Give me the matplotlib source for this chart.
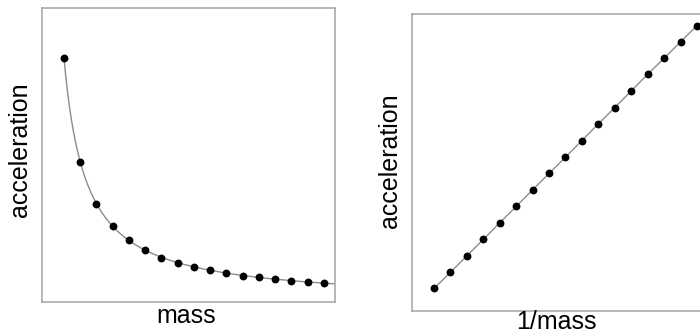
import numpy as np
import matplotlib
matplotlib.use("Agg")
import matplotlib.pyplot as plt

plt.rcParams['font.family'] = ['Liberation Sans', 'DejaVu Sans']

# left panel: acceleration against mass
mass = np.arange(1, 18)
accel_mass = [8.30, 4.76, 3.33, 2.59, 2.11, 1.77, 1.50, 1.33, 1.19,
              1.09, 0.99, 0.88, 0.85, 0.78, 0.71, 0.68, 0.65]

# right panel: acceleration against 1/mass
inv_mass = np.arange(1, 18)
accel_inv = [0.76, 1.30, 1.86, 2.41, 2.97, 3.52, 4.08, 4.63, 5.18,
             5.74, 6.30, 6.85, 7.41, 7.97, 8.51, 9.06, 9.61]

frame_col = '#a3a3a3'
line_col = '#8c8c8c'

# smooth curve a = A/(m+c) + B fitted to the points
best = None
for c in np.linspace(-0.9, 3, 400):
    X = np.column_stack([1.0 / (mass + c), np.ones(len(mass))])
    coef, res, _, _ = np.linalg.lstsq(X, accel_mass, rcond=None)
    err = np.sum((X @ coef - accel_mass) ** 2)
    if best is None or err < best[0]:
        best = (err, c, coef)
_, c, (A, B) = best

fig = plt.figure(figsize=(7, 3.34), dpi=100)

ax1 = fig.add_axes([42 / 700, 32 / 334, 293 / 700, 294 / 334])
mm = np.linspace(1, 17.7, 400)
ax1.plot(mm, A / (mm + c) + B, color=line_col, lw=1.0, zorder=1)
ax1.scatter(mass, accel_mass, s=32, color='black', zorder=2, linewidths=0)
ax1.set_xlim(-0.354, 17.68)
ax1.set_ylim(0, 10)

ax2 = fig.add_axes([412 / 700, 23 / 334, 293 / 700, 297 / 334])
ax2.plot(inv_mass, accel_inv, color=line_col, lw=1.0, zorder=1)
ax2.scatter(inv_mass, accel_inv, s=32, color='black', zorder=2, linewidths=0)
ax2.set_xlim(-0.338, 17.49)
ax2.set_ylim(0, 10)

for ax in (ax1, ax2):
    ax.set_xticks([])
    ax.set_yticks([])
    for sp in ax.spines.values():
        sp.set_color(frame_col)
        sp.set_linewidth(1.1)

fs = 18
fig.text(186 / 700, 1 - 323 / 334, 'mass', fontsize=fs, ha='center', va='baseline')
fig.text(556 / 700, 1 - 329 / 334, '1/mass', fontsize=fs, ha='center', va='baseline')
fig.text(27 / 700, 1 - 150 / 334, 'acceleration', fontsize=fs, rotation=90,
         rotation_mode='anchor', ha='center', va='baseline')
fig.text(397 / 700, 1 - 160.5 / 334, 'acceleration', fontsize=fs, rotation=90,
         rotation_mode='anchor', ha='center', va='baseline')

fig.savefig('out.png', dpi=100)
